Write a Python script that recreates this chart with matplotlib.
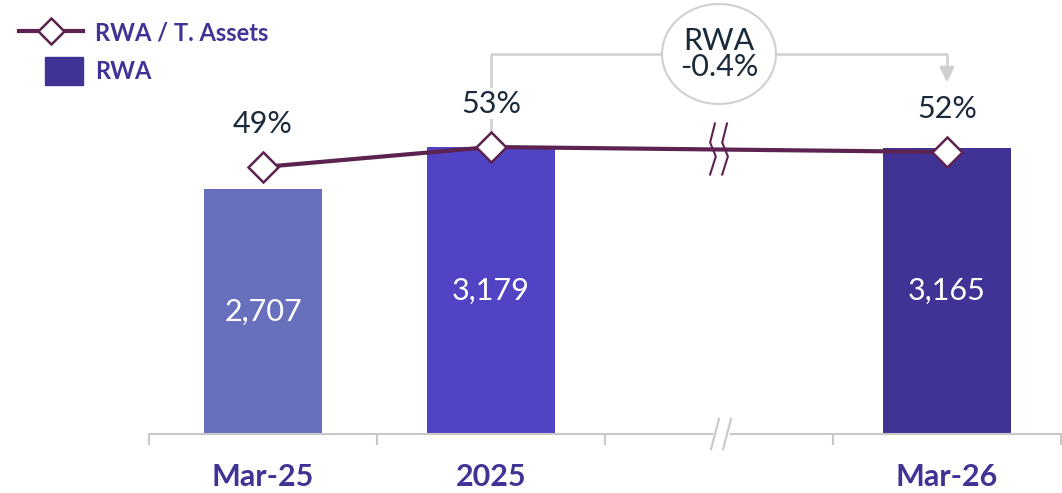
import matplotlib
matplotlib.use('Agg')
import matplotlib.pyplot as plt
from matplotlib.lines import Line2D
from matplotlib.patches import Patch, Ellipse, Rectangle
from matplotlib.legend_handler import HandlerPatch
import numpy as np

plt.rcParams['font.family'] = ['Lato', 'DejaVu Sans']

# data
labels = ['Mar-25', '2025', 'Mar-26']
pos = [0, 1, 3]  # slot 2 is the axis break
rwa = [2707, 3179, 3165]
ratio = [49, 53, 52]
bar_colors = ['#6870BE', '#5044C4', '#3F3496']
change_text = 'RWA\n-0.4%'

line_color = '#5C2350'
text_dark = '#1B2A3A'
label_color = '#3F3496'
grey = '#D0D0D0'

fig = plt.figure(figsize=(10.62, 4.93), dpi=100)
ax = fig.add_axes([149 / 1062, 59 / 493, 912 / 1062, 434 / 493])
ax.set_xlim(-0.5, 3.5)
ax.set_ylim(0, 4800)

ax.bar(pos, rwa, width=[0.52, 0.56, 0.56], color=bar_colors, zorder=2)
for x, v in zip(pos, rwa):
    ax.text(x, v / 2, f'{v:,}', ha='center', va='center', color='white',
            fontsize=22, zorder=3)

# axis styling
for s in ['top', 'left', 'right']:
    ax.spines[s].set_visible(False)
ax.spines['bottom'].set_color('#C8C8C8')
ax.spines['bottom'].set_linewidth(1.5)
ax.set_yticks([])
ax.set_xticks(pos)
ax.set_xticklabels(labels, fontsize=22, fontweight='bold', color=label_color)
ax.tick_params(axis='x', which='major', length=0, pad=21)
ax.set_xticks(np.arange(-0.5, 4, 1), minor=True)
ax.tick_params(axis='x', which='minor', length=8, width=1.5, color='#C8C8C8')

# axis break "//"
tr = ax.get_xaxis_transform()
ax.plot([1.985, 2.035], [0, 0], color='white', lw=4, transform=tr, clip_on=False, zorder=5)
for dx in [0, 0.053]:
    ax.plot([1.965 + dx, 2.0 + dx], [-0.035, 0.035], color='#C8C8C8', lw=1.5,
            transform=tr, clip_on=False, zorder=6)

# ratio line
ax2 = ax.twinx()
ax2.set_ylim(-4.4, 82.4)
ax2.set_yticks([])
for s in ax2.spines.values():
    s.set_visible(False)
ax2.plot(pos, ratio, color=line_color, lw=3, marker='D', ms=15,
         mfc='white', mec=line_color, mew=1.8, zorder=4)
for x, v in zip(pos, ratio):
    ax2.annotate(f'{v}%', (x, v), xytext=(0, 31), textcoords='offset points',
                 ha='center', va='center', fontsize=22,
                 color=text_dark, zorder=5,
                 bbox=dict(boxstyle='square,pad=0.05', fc='white', ec='none'))

# break marks on the line
mid = np.interp(2, [1, 3], [ratio[1], ratio[2]])
zx = np.array([-0.018, -0.039, -0.014, -0.039])
zy = np.array([5.2, 1.4, -1.4, -5.0])
for dx in [0, 0.053]:
    ax2.plot(2 + zx + dx, mid + zy, color=line_color, lw=1.5, zorder=6)

# change annotation
top = 71.6
ax2.plot([1, 1, 3, 3], [ratio[1], top, top, 68.5], color=grey, lw=1.8, zorder=1)
ax2.annotate('', xy=(3, 65.4), xytext=(3, 69),
             arrowprops=dict(arrowstyle='-|>,head_length=0.9,head_width=0.45',
                             color=grey, lw=1.8))
ax2.add_patch(Ellipse((2, 71.6), 0.5, 20, fc='white', ec=grey, lw=1.5,
                      zorder=2, clip_on=False))
ax2.text(2, 71.6, change_text, ha='center', va='center', fontsize=22,
         color=text_dark, linespacing=0.95, zorder=3)


# legend
def small_box(legend, orig_handle, xdescent, ydescent, width, height, fontsize):
    w = width * 0.6
    return Rectangle((width - w - xdescent, -ydescent - height * 0.15), w, height * 1.3)


handles = [Line2D([], [], color=line_color, lw=3, marker='D', ms=13, mfc='white',
                  mec=line_color, mew=1.8),
           Patch(color=label_color)]
fig.legend(handles, ['RWA / T. Assets', 'RWA'], loc='upper left',
           bbox_to_anchor=(0.005, 0.985), frameon=False,
           prop=dict(weight='bold', size=17), labelcolor=label_color,
           handlelength=2.7, handleheight=1.0, handletextpad=0.5,
           labelspacing=0.65, borderaxespad=0.2,
           handler_map={Patch: HandlerPatch(patch_func=small_box)})

fig.savefig('out.png', dpi=100)
